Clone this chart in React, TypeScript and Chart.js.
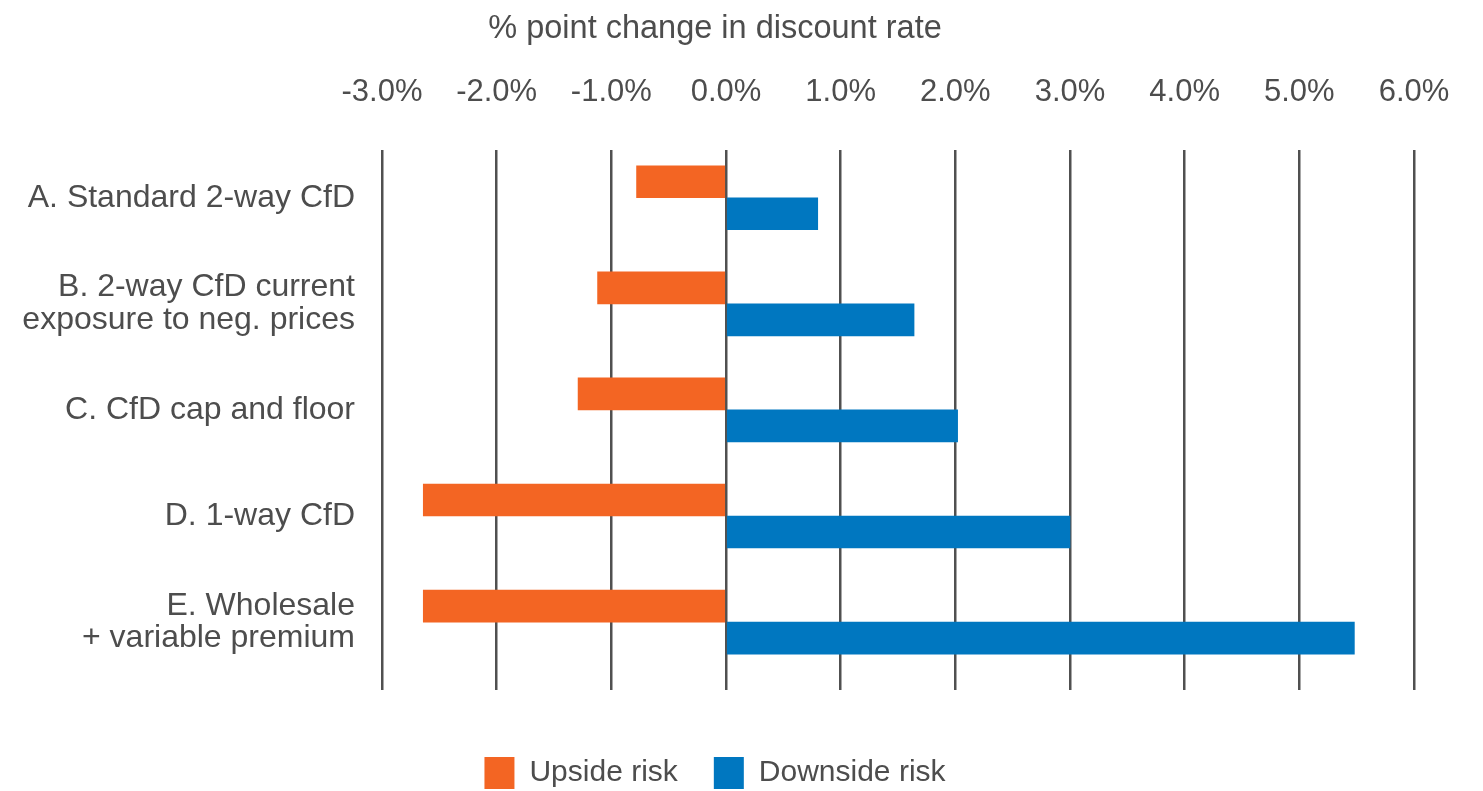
import React, { useEffect, useRef } from "react";
import { Chart, registerables } from "chart.js";

Chart.register(...registerables);

const categories: string[][] = [
  ["A. Standard 2-way CfD"],
  ["B. 2-way CfD current", "exposure to neg. prices"],
  ["C. CfD cap and floor"],
  ["D. 1-way CfD"],
  ["E. Wholesale", "+ variable premium"],
];
const upsideRisk: number[] = [-0.78, -1.12, -1.29, -2.64, -2.64];
const downsideRisk: number[] = [0.8, 1.64, 2.02, 3.0, 5.48];
const seriesNames: string[] = ["Upside risk", "Downside risk"];
const xTickMin = -3;
const xTickMax = 6;
const axisTitle = "% point change in discount rate";

const FONT = "'Liberation Sans', Arial, Helvetica, sans-serif";
const TEXT = "#4d4d4d";
const ORANGE = "#F36523";
const BLUE = "#0077C0";

export default function App() {
  const ref = useRef<HTMLCanvasElement | null>(null);

  useEffect(() => {
    if (!ref.current) return;
    const chart = new Chart(ref.current, {
      type: "bar",
      data: {
        datasets: [
          {
            label: seriesNames[0],
            data: upsideRisk.map((v, i) => ({ x: v, y: i })),
            backgroundColor: ORANGE,
            borderWidth: 0,
            barThickness: 32,
          },
          {
            label: seriesNames[1],
            data: downsideRisk.map((v, i) => ({ x: v, y: i })),
            backgroundColor: BLUE,
            borderWidth: 0,
            barThickness: 32,
          },
        ],
      },
      options: {
        indexAxis: "y",
        animation: false,
        responsive: true,
        maintainAspectRatio: false,
        layout: { padding: { left: 16, right: 69, top: 0, bottom: 1 } },
        scales: {
          x: {
            type: "linear",
            position: "top",
            min: xTickMin,
            max: xTickMax,
            afterFit: (scale: any) => {
              scale.height = 101;
            },
            grid: {
              color: "#505050",
              lineWidth: 2.5,
              drawTicks: false,
            },
            border: { display: false },
            ticks: {
              stepSize: 1,
              padding: 19,
              color: TEXT,
              maxRotation: 0,
              autoSkip: false,
              font: { family: FONT, size: 31, lineHeight: 2.5 },
              callback: (v: any) => Number(v).toFixed(1) + "%",
            },
          },
          y: {
            type: "linear",
            reverse: true,
            offset: false,
            min: -0.45,
            max: 4.64,
            afterFit: (scale: any) => {
              scale.width = 366;
            },
            afterBuildTicks: (scale: any) => {
              scale.ticks = categories.map((_, i) => ({ value: i }));
            },
            grid: { display: false, drawTicks: false, offset: false },
            border: { display: false },
            ticks: {
              padding: 27,
              color: TEXT,
              autoSkip: false,
              font: { family: FONT, size: 32, lineHeight: 1.02 },
              callback: (v: any) => categories[Math.round(Number(v))] ?? "",
            },
          },
        },
        plugins: {
          title: {
            display: true,
            text: axisTitle,
            color: TEXT,
            font: { family: FONT, size: 32.5, weight: "normal" },
            padding: { top: 10, bottom: 0 },
          },
          legend: {
            display: true,
            position: "bottom",
            title: {
              display: true,
              text: "",
              font: { size: 12 },
              padding: { top: 16.6, bottom: 0 },
            },
            labels: {
              boxWidth: 30,
              boxHeight: 32,
              padding: 36,
              color: TEXT,
              font: { family: FONT, size: 30 },
            },
          },
          tooltip: { enabled: false },
        },
      },
    } as any);
    return () => chart.destroy();
  }, []);

  return (
    <div
      style={{
        position: "fixed",
        left: 0,
        top: 0,
        width: 1483,
        height: 800,
        background: "#ffffff",
      }}
    >
      <canvas ref={ref} />
    </div>
  );
}
